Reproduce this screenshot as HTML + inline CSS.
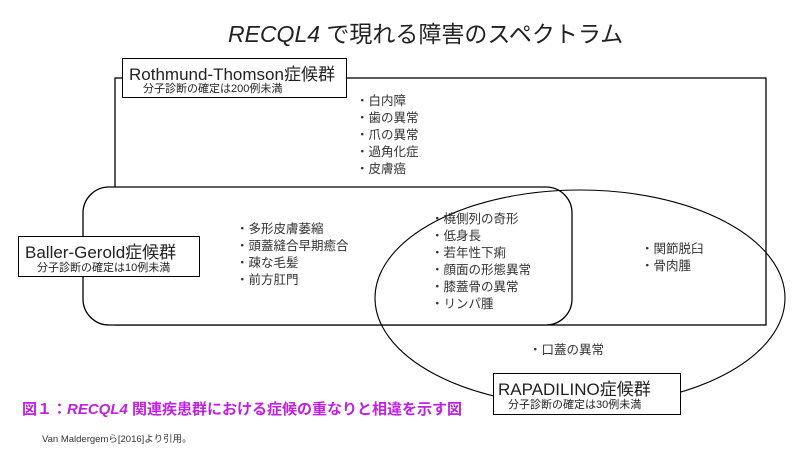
<!DOCTYPE html>
<html><head><meta charset="utf-8"><style>
body{margin:0;width:800px;height:450px;background:#fff;overflow:hidden;font-family:"Liberation Sans","Noto Sans CJK JP",sans-serif;}
svg{position:absolute;left:0;top:0}
.t{position:absolute;white-space:nowrap;color:#222}
.box{position:absolute;background:#fff;border:1.3px solid #000;box-sizing:border-box}
.l{font-size:12.5px;line-height:17px;color:#333}
</style></head><body>
<svg width="800" height="450">
<rect x="115" y="78" width="651" height="247" fill="none" stroke="#000" stroke-width="1.3"/>
<rect x="83" y="187" width="489" height="138" rx="26" fill="#fff" stroke="#000" stroke-width="1.3"/>
<ellipse cx="580" cy="298" rx="205" ry="108" fill="none" stroke="#000" stroke-width="1.1"/>
</svg>
<div class="t" style="left:228px;top:15px;font-size:23px;color:#222"><i>RECQL4</i> で現れる障害のスペクトラム</div>
<div class="box" style="left:122px;top:58px;width:225px;height:40px">
<div class="t" style="left:6px;top:1px;font-size:17px">Rothmund-Thomson症候群</div>
<div class="t" style="left:20px;top:21px;font-size:11px">分子診断の確定は200例未満</div></div>
<div class="box" style="left:18px;top:236px;width:182px;height:41px">
<div class="t" style="left:6px;top:1px;font-size:17px">Baller-Gerold症候群</div>
<div class="t" style="left:18px;top:22px;font-size:11px">分子診断の確定は10例未満</div></div>
<div class="box" style="left:493px;top:373px;width:188px;height:42px">
<div class="t" style="left:4px;top:1px;font-size:17px">RAPADILINO症候群</div>
<div class="t" style="left:14px;top:22px;font-size:11px">分子診断の確定は30例未満</div></div>
<div class="t l" style="left:356px;top:93px">・白内障<br>・歯の異常<br>・爪の異常<br>・過角化症<br>・皮膚癌</div>
<div class="t l" style="left:236px;top:221px">・多形皮膚萎縮<br>・頭蓋縫合早期癒合<br>・疎な毛髪<br>・前方肛門</div>
<div class="t l" style="left:431px;top:211px">・橈側列の奇形<br>・低身長<br>・若年性下痢<br>・顔面の形態異常<br>・膝蓋骨の異常<br>・リンパ腫</div>
<div class="t l" style="left:641px;top:241px">・関節脱臼<br>・骨肉腫</div>
<div class="t l" style="left:529px;top:342px">・口蓋の異常</div>
<div class="t" style="left:22px;top:398px;font-size:15px;font-weight:bold;color:#c020e0">図１：<i>RECQL4</i> 関連疾患群における症候の重なりと相違を示す図</div>
<div class="t" style="left:42px;top:431px;font-size:9.5px;color:#333">Van Maldergemら[2016]より引用。</div>
</body></html>
